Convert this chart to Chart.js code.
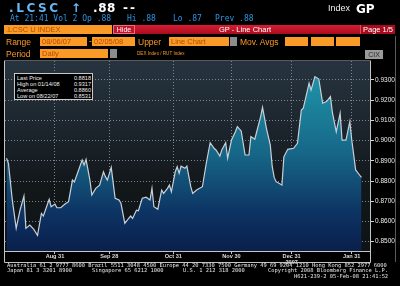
<!DOCTYPE html>
<html>
<head>
<meta charset="utf-8">
<script src="https://cdn.jsdelivr.net/npm/chart.js@4"></script>
<style>
html, body { margin: 0; padding: 0; background: #000; }
#wrap { position: relative; width: 400px; height: 286px; overflow: hidden; background: #000; font-family: "Liberation Sans", Arial, sans-serif; }
#wrap canvas { position: absolute; left: 0; top: 0; }
.t { position: absolute; white-space: pre; line-height: 1; z-index: 2; }
.box { position: absolute; background: #f99b26; color: #b84c00; font-size: 7.5px; line-height: 9px; height: 9px; padding-left: 2px; box-sizing: border-box; z-index: 2; white-space: pre; }
.lbl { color: #f99b26; font-size: 8.5px; }
.blue { color: #2a94e4; font-family: "DejaVu Sans Mono", monospace; font-size: 8px; }
.drop { position: absolute; width: 7px; height: 9px; background: #8c8c8c; z-index: 2; }
.foot { color: #e6e6e6; font-family: "DejaVu Sans Mono", monospace; font-size: 5.4px; }
#legend { position: absolute; left: 14px; top: 73px; width: 79px; height: 27px; background: #000; border: 1px solid #c8c8c8; box-sizing: border-box; z-index: 2; color: #f0f0f0; font-size: 5.6px; }
#legend div { position: absolute; left: 2px; right: 1px; height: 6px; line-height: 6px; }
#legend span { position: absolute; right: 0; }
</style>
</head>
<body>
<div id="wrap">
  <canvas id="chart" width="400" height="286"></canvas>

  <!-- header -->
  <div class="t" style="left:9px;top:1px;font:bold 12px 'DejaVu Sans';letter-spacing:2.6px;color:#6ab6f2;">.LCSC</div>
  <div class="t" style="left:71px;top:1px;font:bold 12px 'DejaVu Sans';color:#6ab6f2;">↑</div>
  <div class="t" style="left:93px;top:1px;font:bold 12px 'DejaVu Sans';letter-spacing:0.6px;color:#fff;">.88</div>
  <div class="t" style="left:123px;top:1px;font:bold 12px 'DejaVu Sans';letter-spacing:2px;color:#fff;">--</div>
  <div class="t" style="left:328px;top:4px;font-size:9px;color:#f2f2f2;">Index</div>
  <div class="t" style="left:356px;top:2px;font:bold 12px 'DejaVu Sans';color:#fff;">GP</div>

  <div class="t blue" style="left:10px;top:15px;">At 21:41 Vol 2 Op .88</div>
  <div class="t blue" style="left:127px;top:15px;">Hi .88</div>
  <div class="t blue" style="left:173px;top:15px;">Lo .87</div>
  <div class="t blue" style="left:215px;top:15px;">Prev .88</div>

  <div class="box" style="left:4px;top:25px;width:108px;">.LCSC U INDEX</div>
  <div class="t" style="left:113px;top:25px;width:22px;height:9px;background:#c4142c;border:1px solid #f06a7a;box-sizing:border-box;color:#fff;font-size:7px;line-height:7px;text-align:center;">Hide</div>
  <div class="t" style="left:135px;top:25px;width:225px;height:9px;background:linear-gradient(#d81c34,#a80c1e);"></div>
  <div class="t" style="left:219px;top:26px;color:#fff;font-size:7.5px;">GP - Line Chart</div>
  <div class="t" style="left:360px;top:25px;width:35px;height:9px;background:#a80a1e;border-left:1px solid #e44a5c;box-sizing:border-box;color:#fff;font-size:7.5px;line-height:9px;text-align:center;">Page 1/5</div>

  <div class="t lbl" style="left:6px;top:38px;">Range</div>
  <div class="box" style="left:40px;top:37px;width:47px;">08/06/07</div>
  <div class="t lbl" style="left:89px;top:37px;">-</div>
  <div class="box" style="left:92px;top:37px;width:43px;">02/05/08</div>
  <div class="t lbl" style="left:138px;top:38px;">Upper</div>
  <div class="box" style="left:169px;top:37px;width:60px;">Line Chart</div>
  <div class="drop" style="left:230px;top:37px;"></div>
  <div class="t lbl" style="left:240px;top:38px;">Mov. Avgs</div>
  <div class="box" style="left:285px;top:37px;width:23px;"></div>
  <div class="box" style="left:311px;top:37px;width:23px;"></div>
  <div class="box" style="left:336px;top:37px;width:24px;"></div>

  <div class="t lbl" style="left:6px;top:50px;">Period</div>
  <div class="box" style="left:40px;top:49px;width:68px;">Daily</div>
  <div class="drop" style="left:110px;top:49px;"></div>
  <div class="t" style="left:137px;top:52px;font-size:4.6px;color:#f99b26;">DEX Index / RUT Index</div>
  <div class="t" style="left:365px;top:50px;width:18px;height:9px;background:#9a9a9a;color:#2a2a2a;font-size:7px;line-height:9px;text-align:center;">CIX</div>

  <!-- legend -->
  <div id="legend">
    <div style="top:1px;">Last Price<span>0.8818</span></div>
    <div style="top:7px;">High on 01/14/08<span>0.9317</span></div>
    <div style="top:13px;">Average<span>0.8860</span></div>
    <div style="top:19px;">Low on 08/22/07<span>0.8531</span></div>
  </div>

  <!-- footer -->
  <div class="t foot" style="left:7px;top:263px;">Australia 61 2 9777 8600 Brazil 5511 3048 4500 Europe 44 20 7330 7500 Germany 49 69 9204 1210 Hong Kong 852 2977 6000</div>
  <div class="t foot" style="left:7px;top:268px;">Japan 81 3 3201 8900</div>
  <div class="t foot" style="left:92px;top:268px;">Singapore 65 6212 1000</div>
  <div class="t foot" style="left:183px;top:268px;">U.S. 1 212 318 2000</div>
  <div class="t foot" style="left:268px;top:268px;">Copyright 2008 Bloomberg Finance L.P.</div>
  <div class="t foot" style="left:294px;top:273.5px;">H621-239-2 05-Feb-08 21:41:52</div>
</div>

<script>
// days counted from 08/06/07
const days = [0, 1, 3, 5, 7, 9, 10, 12, 14, 16,
  18, 19, 22, 23, 25, 26, 28, 30, 32, 34,
  35, 39, 40, 41, 43, 44, 46, 48, 50, 51,
  52, 54, 56, 58, 59, 61, 63, 64, 65, 67,
  68, 70, 72, 74, 75, 76, 78, 80, 81, 83,
  84, 85, 87, 88, 89, 90, 92, 93, 95, 96,
  98, 101, 103, 105, 107, 108, 110, 111, 113, 114,
  116, 118, 119, 121, 123, 125, 126, 128, 129, 131,
  132, 134, 136, 137, 138, 139, 142, 143, 145, 148,
  150, 152, 153, 156, 157, 159, 161, 163, 165, 167,
  168, 170, 172, 173, 175, 177, 178, 180, 182, 183];

const prices = [0.8913, 0.8888, 0.8706, 0.8566, 0.8657, 0.8726, 0.8566, 0.8582, 0.8562, 0.8531,
  0.8640, 0.8627, 0.8710, 0.8673, 0.8686, 0.8668, 0.8668, 0.8685, 0.8698, 0.8805,
  0.8796, 0.8904, 0.8879, 0.8907, 0.8805, 0.8731, 0.8764, 0.8780, 0.8846, 0.8822,
  0.8805, 0.8868, 0.8715, 0.8706, 0.8690, 0.8591, 0.8615, 0.8627, 0.8615, 0.8656,
  0.8653, 0.8715, 0.8720, 0.8706, 0.8764, 0.8673, 0.8661, 0.8755, 0.8739, 0.8764,
  0.8780, 0.8747, 0.8846, 0.8871, 0.8838, 0.8874, 0.8863, 0.8874, 0.8772, 0.8739,
  0.8756, 0.8772, 0.8888, 0.8990, 0.8962, 0.8954, 0.8924, 0.8954, 0.8990, 0.8913,
  0.9003, 0.9044, 0.9069, 0.9048, 0.8929, 0.8929, 0.9020, 0.9007, 0.9044, 0.9118,
  0.9165, 0.9061, 0.8978, 0.8871, 0.8818, 0.8797, 0.8780, 0.8920, 0.8957, 0.8962,
  0.8987, 0.9151, 0.9160, 0.9284, 0.9250, 0.9317, 0.9305, 0.9185, 0.9193, 0.9218,
  0.9140, 0.9044, 0.9135, 0.9003, 0.9003, 0.9094, 0.9003, 0.8855, 0.8830, 0.8818];

const tickDays = [25, 53, 86, 116, 147, 178];
const tickLabels = ['Aug 31', 'Sep 28', 'Oct 31', 'Nov 30', ['Dec 31', '2007'], 'Jan 31'];
const yTicks = [0.85, 0.86, 0.87, 0.88, 0.89, 0.90, 0.91, 0.92, 0.93];

// ── plot background + frame ──────────────────────────────
const panelPlugin = {
    id: 'panel',
    beforeDraw(chart) {
        const { ctx, chartArea: a } = chart;
        const g = ctx.createLinearGradient(0, a.top, 0, a.bottom);
        g.addColorStop(0, '#27343f');
        g.addColorStop(0.35, '#1c252d');
        g.addColorStop(0.65, '#12171a');
        g.addColorStop(1, '#0e1317');
        ctx.save();
        ctx.fillStyle = g;
        ctx.fillRect(a.left, a.top, a.right - a.left, a.bottom - a.top);
        ctx.restore();
    },
    afterDraw(chart) {
        const { ctx, chartArea: a } = chart;
        ctx.save();
        ctx.strokeStyle = '#c4c4c4';
        ctx.lineWidth = 1;
        ctx.beginPath();
        ctx.moveTo(a.left - 0.5, a.top - 0.5);
        ctx.lineTo(a.left - 0.5, 262.5);
        ctx.lineTo(a.right + 0.5, 262.5);
        ctx.lineTo(a.right + 0.5, a.top - 0.5);
        ctx.moveTo(a.left, a.bottom + 0.5);
        ctx.lineTo(a.right, a.bottom + 0.5);
        ctx.stroke();
        ctx.strokeStyle = '#5a5a5a';
        ctx.beginPath();
        ctx.moveTo(a.left, a.top - 0.5);
        ctx.lineTo(a.right, a.top - 0.5);
        ctx.moveTo(395.5, 36);
        ctx.lineTo(395.5, 262);
        ctx.stroke();
        ctx.restore();
    }
};

function fillGradient(context) {
    const { ctx, chartArea } = context.chart;
    if (!chartArea) return null;
    const g = ctx.createLinearGradient(0, chartArea.top, 0, chartArea.bottom);
    g.addColorStop(0, '#2299b2');
    g.addColorStop(0.3, '#1a7c96');
    g.addColorStop(0.5, '#166486');
    g.addColorStop(0.65, '#124c75');
    g.addColorStop(0.8, '#0d3363');
    g.addColorStop(1, '#0a1f4c');
    return g;
}

new Chart(document.getElementById('chart'), {
    type: 'line',
    data: {
        datasets: [{
            data: days.map((d, i) => ({ x: d, y: prices[i] })),
            borderColor: '#c8d0d8',
            borderWidth: 1.2,
            pointRadius: 0,
            tension: 0,
            fill: 'start',
            backgroundColor: fillGradient
        }]
    },
    options: {
        responsive: false,
        animation: false,
        events: [],
        layout: { padding: { left: 5, top: 61, right: 0, bottom: 0 } },
        plugins: { legend: { display: false }, tooltip: { enabled: false } },
        scales: {
            x: {
                type: 'linear',
                min: -0.77,
                max: 187.4,
                z: 1,
                afterBuildTicks: s => { s.ticks = tickDays.map(v => ({ value: v })); },
                afterFit: s => { s.height = 35; },
                ticks: {
                    autoSkip: false,
                    maxRotation: 0,
                    padding: 0,
                    color: '#dcdcdc',
                    font: { family: 'Liberation Sans', size: 5.6, weight: 'bold', lineHeight: 1 },
                    callback: v => tickLabels[tickDays.indexOf(v)]
                },
                grid: { color: '#7c848c', tickColor: '#c4c4c4', tickLength: 3, tickBorderDash: [] },
                border: { display: false, dash: [1, 2] }
            },
            y: {
                position: 'right',
                min: 0.8454,
                max: 0.9394,
                z: 1,
                afterBuildTicks: s => { s.ticks = yTicks.map(v => ({ value: v })); },
                afterFit: s => { s.width = 30; },
                ticks: {
                    padding: 1,
                    color: '#ececec',
                    font: { family: 'Liberation Sans', size: 6.5 },
                    callback: v => v.toFixed(4)
                },
                grid: { color: '#7c848c', tickColor: '#d0d0d0', tickLength: 4, tickBorderDash: [] },
                border: { display: false, dash: [1, 2] }
            }
        }
    },
    plugins: [panelPlugin]
});
</script>
</body>
</html>
